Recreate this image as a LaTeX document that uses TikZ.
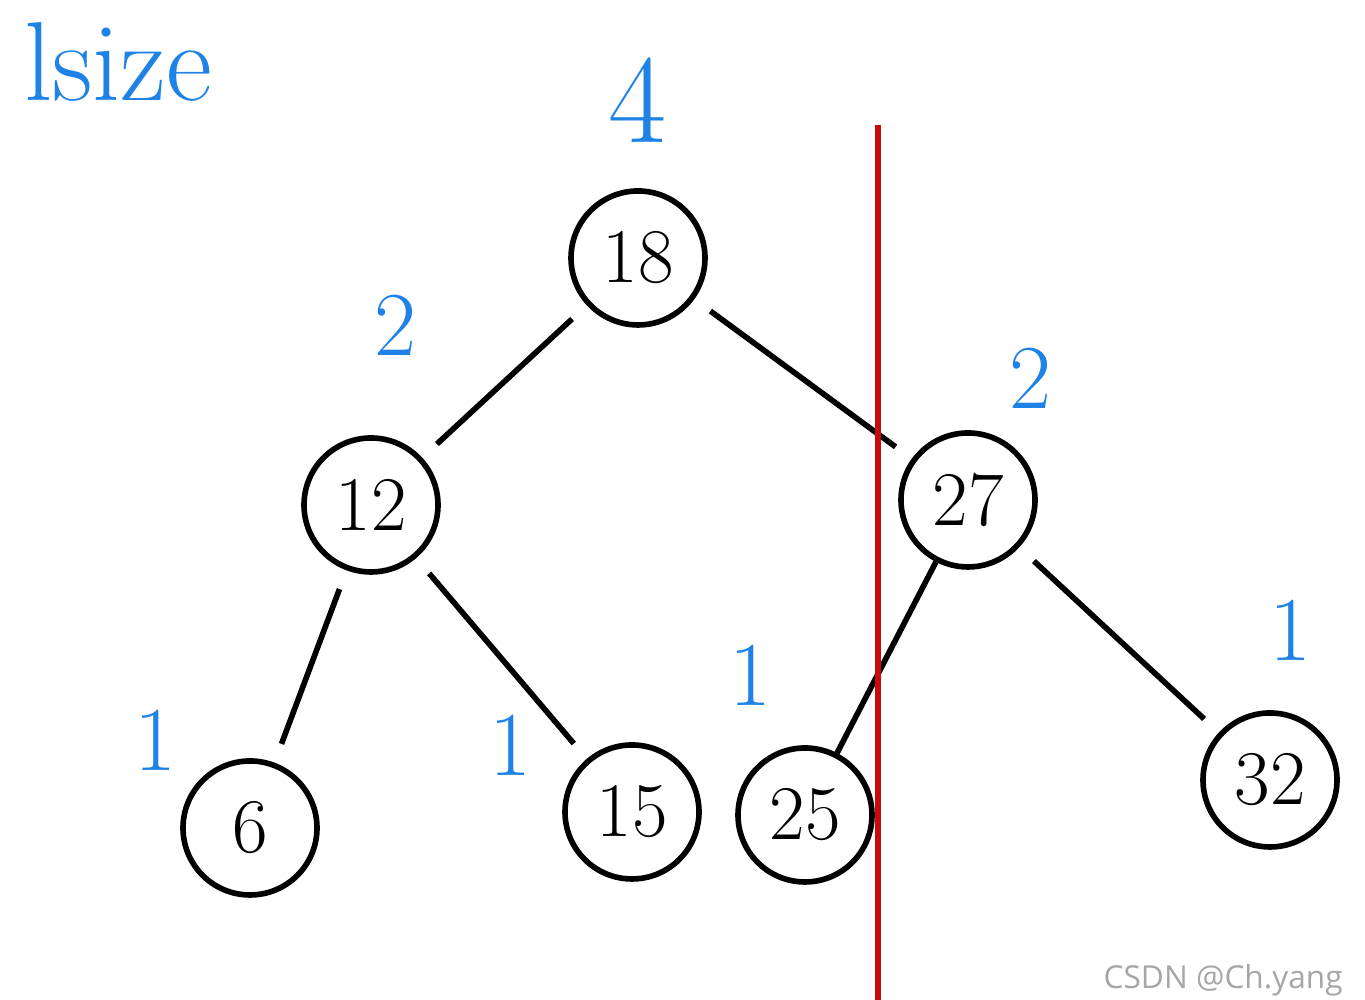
\documentclass[tikz,border=0pt]{standalone}
\usepackage{fontspec}
\newfontfamily\wmfont{Open Sans}
\usepackage{tikz}
\usetikzlibrary{positioning}
\definecolor{handblue}{RGB}{30,130,230}
\definecolor{cutred}{RGB}{200,10,10}

\begin{document}
\begin{tikzpicture}[
  key/.style={draw, circle, line width=1.6pt, minimum size=1.34cm, inner sep=0pt, font=\fontsize{22}{26}\selectfont},
  edge/.style={line width=1.6pt, shorten <=0.2cm, shorten >=0.2cm},
  sz/.style={text=handblue, font=\fontsize{26}{30}\selectfont},
  cut/.style={draw=cutred, line width=1.6pt}
]
\useasboundingbox (0,0) rectangle (13.65,10);

\node[key] (k18) at (6.38, 7.42) {18};
\node[key] (k12) at (3.71, 4.95) {12};
\node[key] (k27) at (9.68, 5.00) {27};
\node[key] (k6)  at (2.50, 1.72) {6};
\node[key] (k15) at (6.32, 1.88) {15};
\node[key] (k25) at (8.05, 1.85) {25};
\node[key] (k32) at (12.70, 2.20) {32};

\draw[edge] (k18) -- (k12);
\draw[edge] (k18) -- (k27);
\draw[edge] (k12) -- (k6);
\draw[edge] (k12) -- (k15);
\draw[edge, shorten <=0pt, shorten >=0pt] (k27) -- (k25);
\draw[edge] (k27) -- (k32);

\node[sz, font=\fontsize{32}{36}\selectfont] (title) at (1.18, 9.38) {lsize};
\node[sz, font=\fontsize{36}{40}\selectfont] (s18) at (6.38, 9.0) {4};
\node[sz] (s12) at (3.95, 6.75) {2};
\node[sz] (s27) at (10.30, 6.22) {2};
\node[sz] (s6)  at (1.55, 2.60) {1};
\node[sz] (s15) at (5.10, 2.55) {1};
\node[sz] (s25) at (7.50, 3.25) {1};
\node[sz] (s32) at (12.90, 3.70) {1};

\coordinate (cuttop) at (8.78, 8.75);
\coordinate (cutbot) at (8.78, 0);
\draw[cut] (cuttop) -- (cutbot);

\node[text=gray!70, font=\wmfont\fontsize{9}{11}\selectfont, anchor=east] (mark) at (13.55, 0.2) {CSDN @Ch.yang};
\end{tikzpicture}
\end{document}
